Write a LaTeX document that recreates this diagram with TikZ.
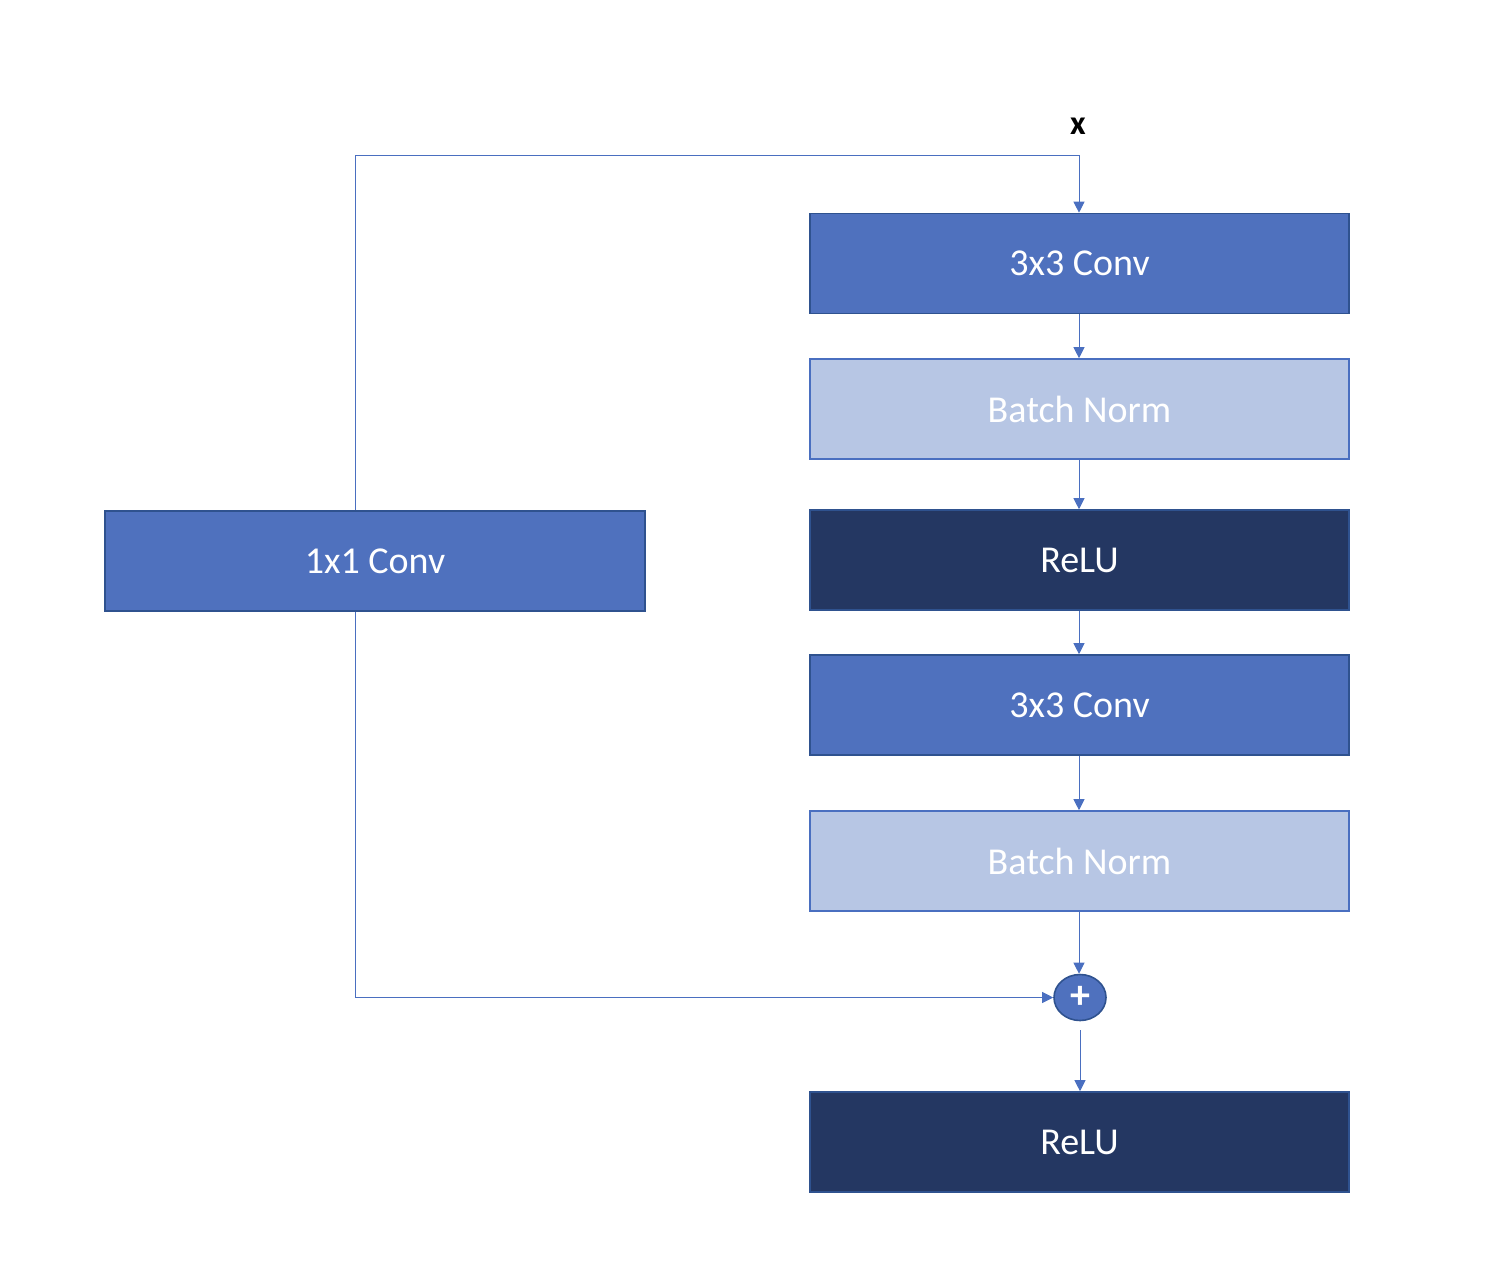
\documentclass[tikz,border=0pt]{standalone}
\usepackage{fontspec}
\setmainfont{Carlito}
\usetikzlibrary{arrows.meta,shapes.geometric}
\definecolor{midblue}{HTML}{4F71BE}
\definecolor{midborder}{HTML}{2F528F}
\definecolor{lightblue}{HTML}{B7C6E4}
\definecolor{lightborder}{HTML}{4A6FC0}
\definecolor{darkblue}{HTML}{243762}
\definecolor{linecol}{HTML}{4A6FC0}
\tikzset{
  blk/.style={rectangle, minimum width=539pt, minimum height=100pt, line width=1.6pt, inner sep=0pt, font=\fontsize{38}{42}\selectfont, text=white},
  convbox/.style={blk, fill=midblue, draw=midborder},
  normbox/.style={blk, fill=lightblue, draw=lightborder},
  relubox/.style={blk, fill=darkblue, draw=midborder},
  conn/.style={draw=linecol, line width=1pt, -{Triangle[width=11pt,length=11pt]}},
  plain/.style={draw=linecol, line width=1pt}
}
\begin{document}
\begin{tikzpicture}[x=1pt,y=-1pt]
\useasboundingbox (0,0) rectangle (1506,1284);
\node[font=\fontsize{34}{38}\selectfont\bfseries] (x) at (1078,126) {x};
\coordinate (top) at (1079,155.5);
\coordinate (topleft) at (355,155.5);
\node[convbox] (c1) at (1079.5,263.5) {3x3 Conv};
\node[normbox] (b1) at (1079.5,409) {Batch Norm};
\node[relubox] (r1) at (1079.5,560) {ReLU};
\node[convbox] (c2) at (1079.5,705) {3x3 Conv};
\node[normbox] (b2) at (1079.5,861) {Batch Norm};
\node[ellipse, fill=midblue, draw=midborder, line width=1.6pt, minimum width=52pt, minimum height=46pt, inner sep=0pt, text=white, font=\fontsize{40}{40}\selectfont\bfseries] (plus) at (1080,997.5) {+};
\node[relubox] (r2) at (1079.5,1142) {ReLU};
\node[convbox, minimum width=540pt] (c0) at (375,561) {1x1 Conv};
\coordinate (botleft) at (355,997.5);
\draw[conn] (top) -- (c1.north -| top);
\draw[plain] (top) -- (topleft) -- (topleft |- c0.north);
\draw[conn] (c1.south -| top) -- (b1.north -| top);
\draw[conn] (b1.south -| top) -- (r1.north -| top);
\draw[conn] (r1.south -| top) -- (c2.north -| top);
\draw[conn] (c2.south -| top) -- (b2.north -| top);
\draw[conn] (b2.south -| top) -- (plus.north -| top);
\draw[plain] (topleft |- c0.south) -- (botleft);
\draw[conn] (botleft) -- (plus.west);
\draw[conn] ([yshift=-9pt]plus.south) -- (r2.north -| plus);
\end{tikzpicture}
\end{document}
